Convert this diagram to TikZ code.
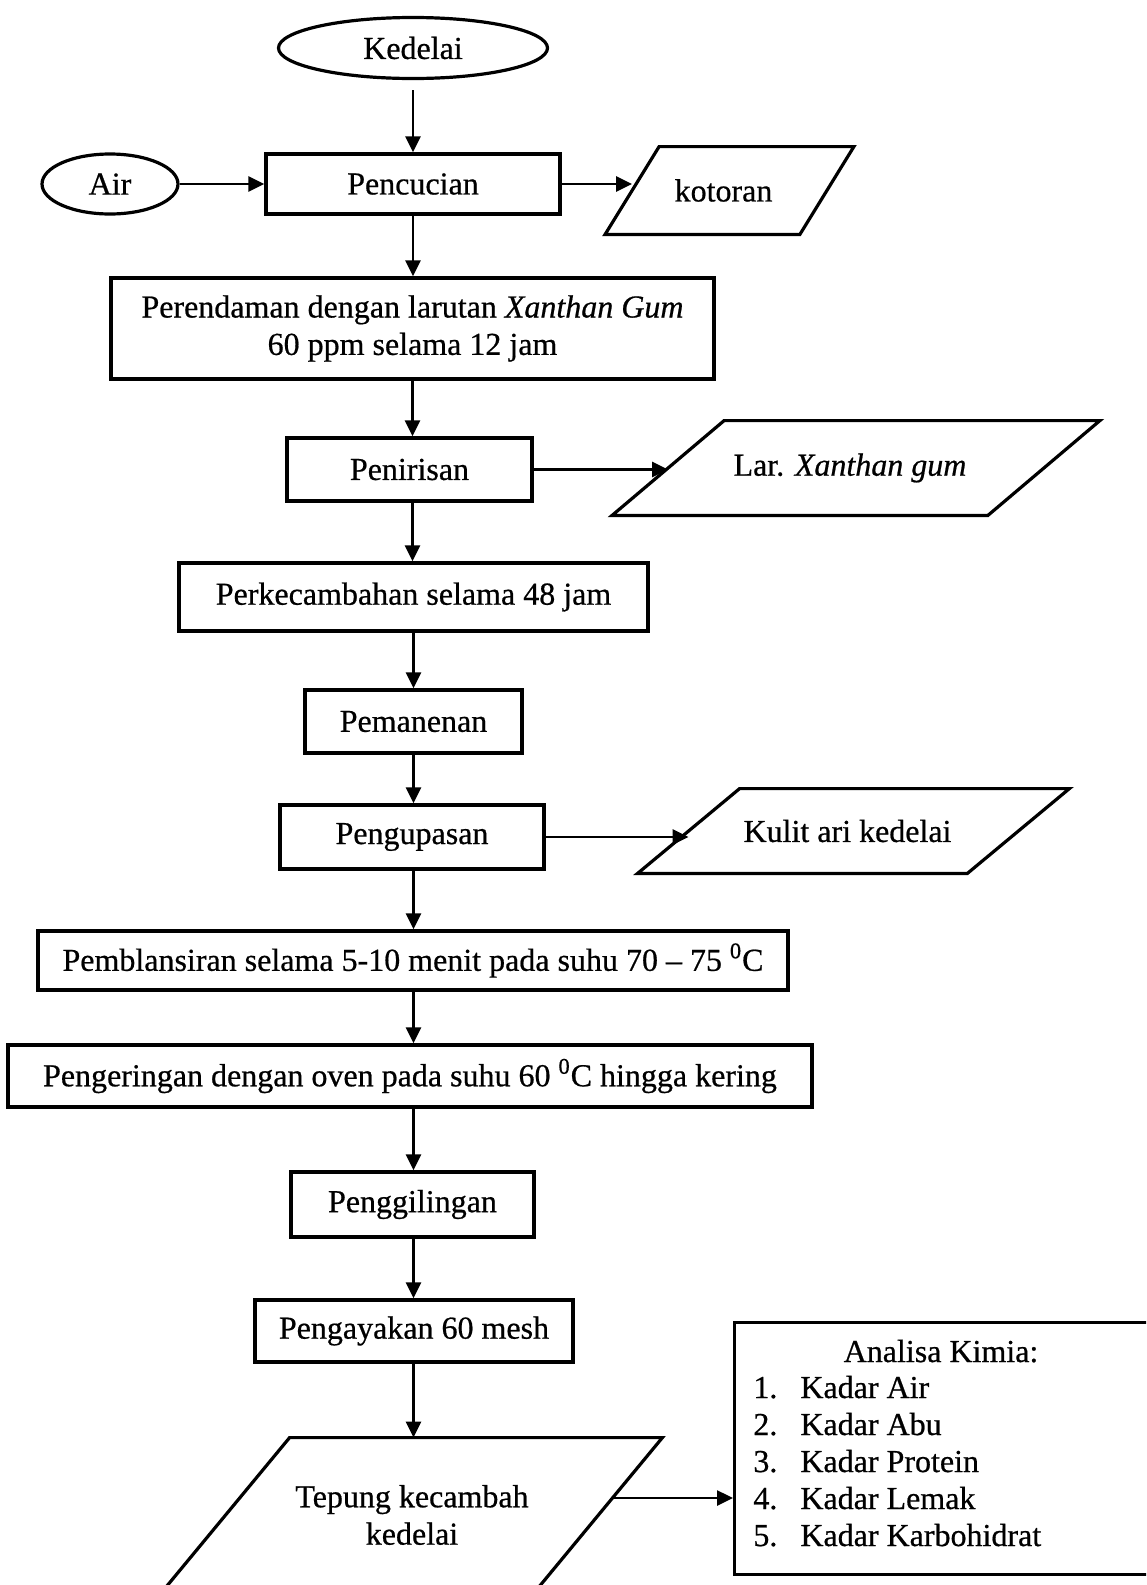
\documentclass[tikz,border=0pt]{standalone}
\usepackage{fontspec}
\setmainfont[FakeBold=0.6]{Liberation Serif}
\usetikzlibrary{shapes.geometric,arrows.meta}

\tikzset{
  sz/.style 2 args={minimum width=#1*0.5pt, minimum height=#2*0.5pt},
  box/.style={draw, line width=1.7pt, rectangle, inner sep=0pt, align=center},
  oval/.style={draw, line width=1.6pt, ellipse, inner sep=0pt},
  iobox/.style={rectangle, inner sep=0pt, align=center},
  outline/.style={line width=1.6pt, line join=miter},
  flow/.style={line width=1.3pt, -{Triangle[length=8pt,width=7.5pt]}},
  item/.style={anchor=base west, inner sep=0pt},
}

% slanted data box drawn around a plain node: #1 node name, #2 half of the slant
\newcommand\slantoutline[2]{%
  \draw[outline] ([xshift=#2]#1.north west) -- ([xshift=#2]#1.north east)
    -- ([xshift=-#2]#1.south east) -- ([xshift=-#2]#1.south west) -- cycle;}

\begin{document}
\begin{tikzpicture}[x=0.5pt, y=-0.5pt, font=\fontsize{16}{18.7}\selectfont]
\useasboundingbox (0,0) rectangle (1146,1585);
\fill[white] (0,0) rectangle (1146,1585);
\clip (0,0) rectangle (1146,1585);

% process steps
\node[oval, sz={269}{61}] (kedelai) at (413,48) {Kedelai};
\node[oval, sz={136}{60}] (air) at (110,184) {Air};
\node[box, sz={294}{60}] (cuci) at (413,184) {Pencucian};
\node[iobox, sz={194}{87}] (kotor) at (729.5,190.5) {\hspace*{-6pt}kotoran};
\node[box, sz={603}{101}] (rendam) at (412.5,328.5)
  {Perendaman dengan larutan \textit{Xanthan Gum}\\60 ppm selama 12 jam};
\node[box, sz={245}{63}] (tiris) at (409.5,469.5) {Penirisan};
\node[iobox, sz={375}{94}] (larutan) at (856,468) {\hspace*{-6pt}Lar. \textit{Xanthan gum}};
\node[box, sz={469}{68}] (kecambah) at (413.5,597) {Perkecambahan selama 48 jam};
\node[box, sz={217}{63}] (panen) at (413.5,721.5) {Pemanenan};
\node[box, sz={264}{64}] (kupas) at (412,837) {Pengupasan};
\node[iobox, sz={329}{84}] (kulit) at (853.5,831) {\hspace*{-6pt}Kulit ari kedelai};
\node[box, sz={750}{59}] (blansir) at (413,960.5)
  {Pemblansiran selama 5-10 menit pada suhu 70 -- 75 \textsuperscript{0}C};
\node[box, sz={804}{62}] (oven) at (410,1076)
  {Pengeringan dengan oven pada suhu 60 \textsuperscript{0}C hingga kering};
\node[box, sz={243}{65}] (giling) at (412.5,1204.5) {Penggilingan};
\node[box, sz={318}{62}] (ayak) at (414,1331) {Pengayakan 60 mesh};
\node[iobox, sz={372}{154}] (tepung) at (412,1515) {Tepung kecambah\\kedelai};
\node[box, sz={427}{252}, anchor=north west] (analisa) at (733,1321) {};

% slanted outlines of the data boxes
\slantoutline{kotor}{13.5pt}
\slantoutline{larutan}{28pt}
\slantoutline{kulit}{25.5pt}
\slantoutline{tepung}{32pt}

% chemical analysis list
\node[anchor=base, inner sep=0pt] (judul) at (941,1362) {Analisa Kimia:};
\foreach \n/\t/\y in {1/Kadar Air/1398, 2/Kadar Abu/1435, 3/Kadar Protein/1472,
                      4/Kadar Lemak/1509, 5/Kadar Karbohidrat/1546}{
  \node[item] (no\n) at (753,\y) {\n.};
  \node[item] (isi\n) at (800,\y) {\t};
}

% connectors
\draw[flow, shorten <=5pt] (kedelai.south) -- (kedelai.south |- cuci.north);
\draw[flow] (air.east) -- (cuci.west |- air.east);
\draw[flow] (cuci.east) -- (kotor.west |- cuci.east);
\draw[flow] (cuci.south) -- (cuci.south |- rendam.north);
\draw[flow] (rendam.south) -- (rendam.south |- tiris.north);
\draw[flow] (tiris.east) -- (larutan.west |- tiris.east);
\draw[flow] (tiris.south -| rendam.south) -- (rendam.south |- kecambah.north);
\draw[flow] (kecambah.south) -- (kecambah.south |- panen.north);
\draw[flow] (panen.south) -- (panen.south |- kupas.north);
\draw[flow] (kupas.east) -- (kulit.west |- kupas.east);
\draw[flow] (kupas.south -| panen.south) -- (panen.south |- blansir.north);
\draw[flow] (blansir.south -| panen.south) -- (panen.south |- oven.north);
\draw[flow] (oven.south -| panen.south) -- (panen.south |- giling.north);
\draw[flow] (giling.south -| panen.south) -- (panen.south |- ayak.north);
\draw[flow] (ayak.south -| panen.south) -- (panen.south |- tepung.north);
\coordinate (tepungR) at ([xshift=7pt,yshift=8.5pt]tepung.east);
\draw[flow] (tepungR) -- (analisa.west |- tepungR);
\end{tikzpicture}
\end{document}
